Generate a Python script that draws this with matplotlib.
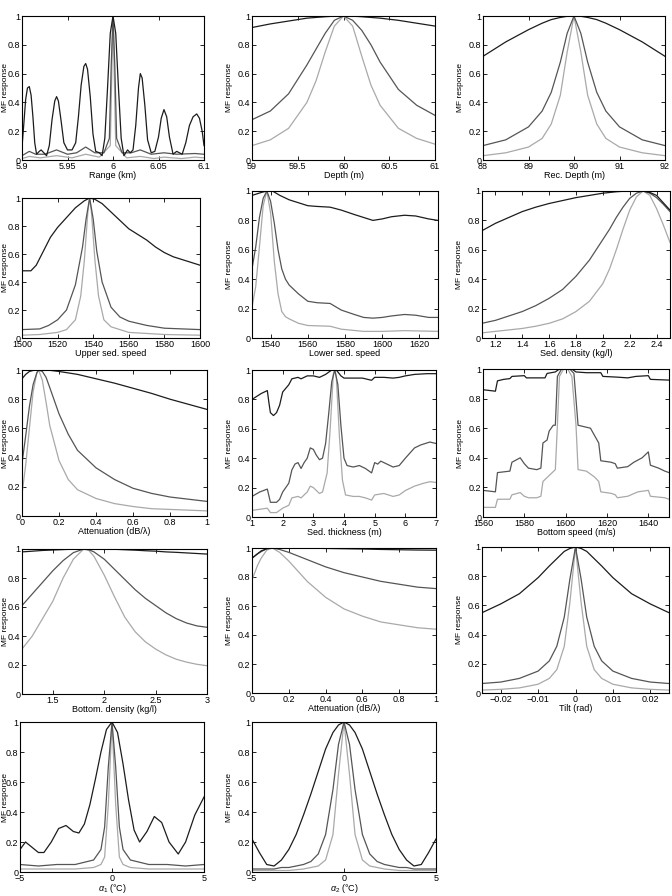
import matplotlib
matplotlib.use("Agg")
import matplotlib.pyplot as plt

# ---- data ----
# 1: range
rangeBlackX = [5.900, 5.902, 5.904, 5.906, 5.908, 5.910, 5.912, 5.914, 5.916, 5.919, 5.921, 5.924, 5.927,
               5.930, 5.933, 5.936, 5.938, 5.940, 5.943, 5.946, 5.950, 5.955, 5.959, 5.962, 5.965, 5.968,
               5.970, 5.972, 5.975, 5.978, 5.981, 5.985, 5.988, 5.991, 5.994, 5.997, 6.000, 6.003, 6.006,
               6.009, 6.012, 6.016, 6.019, 6.022, 6.025, 6.028, 6.030, 6.032, 6.035, 6.038, 6.042, 6.046,
               6.050, 6.053, 6.056, 6.059, 6.062, 6.066, 6.070, 6.073, 6.076, 6.080, 6.084, 6.088, 6.092,
               6.095, 6.098, 6.100]
rangeBlack = [0.09, 0.25, 0.42, 0.50, 0.51, 0.45, 0.30, 0.12, 0.04, 0.06, 0.07, 0.05, 0.03,
              0.10, 0.28, 0.41, 0.44, 0.41, 0.27, 0.12, 0.07, 0.07, 0.12, 0.30, 0.52, 0.65,
              0.67, 0.63, 0.44, 0.18, 0.06, 0.05, 0.03, 0.15, 0.50, 0.88, 1.00, 0.88, 0.50,
              0.15, 0.03, 0.07, 0.05, 0.07, 0.24, 0.50, 0.60, 0.57, 0.38, 0.14, 0.05, 0.06,
              0.16, 0.29, 0.35, 0.30, 0.16, 0.04, 0.06, 0.05, 0.04, 0.12, 0.24, 0.30, 0.32,
              0.29, 0.20, 0.10]
rangeDarkX = [5.900, 5.908, 5.915, 5.925, 5.938, 5.950, 5.960, 5.970, 5.980, 5.990, 5.996, 5.998, 6.000,
              6.002, 6.004, 6.010, 6.020, 6.030, 6.042, 6.056, 6.070, 6.090, 6.100]
rangeDark = [0.03, 0.06, 0.04, 0.04, 0.07, 0.04, 0.05, 0.09, 0.05, 0.05, 0.15, 0.65, 1.00,
             0.65, 0.15, 0.05, 0.05, 0.07, 0.04, 0.05, 0.04, 0.045, 0.04]
rangeLightX = [5.900, 5.908, 5.920, 5.938, 5.955, 5.970, 5.985, 5.997, 5.999, 6.000, 6.001, 6.003,
               6.015, 6.030, 6.045, 6.056, 6.075, 6.090, 6.100]
rangeLight = [0.01, 0.025, 0.015, 0.03, 0.015, 0.04, 0.02, 0.1, 0.7, 1.0, 0.7, 0.1,
              0.015, 0.025, 0.01, 0.02, 0.01, 0.02, 0.015]

# 2: depth
depthX = [59.0, 59.2, 59.4, 59.6, 59.7, 59.8, 59.9, 60.0, 60.1, 60.2, 60.3, 60.4, 60.6, 60.8, 61.0]
depthBlack = [0.92, 0.945, 0.965, 0.985, 0.99, 0.995, 0.999, 1.0, 0.999, 0.995, 0.99, 0.985, 0.97, 0.95, 0.93]
depthDark = [0.28, 0.34, 0.46, 0.66, 0.77, 0.88, 0.97, 1.0, 0.97, 0.90, 0.80, 0.68, 0.49, 0.38, 0.31]
depthLight = [0.10, 0.14, 0.22, 0.40, 0.55, 0.75, 0.93, 1.0, 0.93, 0.72, 0.52, 0.38, 0.22, 0.15, 0.11]

# 3: receiver depth
recX = [88.0, 88.5, 89.0, 89.3, 89.5, 89.7, 89.85, 90.0, 90.15, 90.3, 90.5, 90.7, 91.0, 91.5, 92.0]
recBlack = [0.72, 0.82, 0.905, 0.95, 0.975, 0.99, 0.998, 1.0, 0.998, 0.99, 0.975, 0.95, 0.905, 0.82, 0.72]
recDark = [0.10, 0.14, 0.23, 0.34, 0.47, 0.68, 0.88, 1.0, 0.88, 0.68, 0.47, 0.34, 0.23, 0.14, 0.10]
recLight = [0.03, 0.05, 0.09, 0.15, 0.25, 0.45, 0.75, 1.0, 0.75, 0.45, 0.25, 0.15, 0.09, 0.05, 0.03]

# 4: upper sediment speed
upperBlackX = [1500, 1505, 1508, 1512, 1516, 1520, 1525, 1530, 1535, 1538, 1541, 1545, 1550, 1555,
               1560, 1565, 1570, 1575, 1580, 1585, 1590, 1595, 1600]
upperBlack = [0.48, 0.48, 0.52, 0.62, 0.72, 0.79, 0.86, 0.93, 0.98, 1.0, 0.99, 0.96, 0.90, 0.84,
              0.78, 0.74, 0.70, 0.65, 0.61, 0.58, 0.56, 0.54, 0.52]
upperDarkX = [1500, 1510, 1515, 1520, 1525, 1530, 1534, 1536, 1538, 1540, 1542, 1545, 1550, 1555,
              1560, 1570, 1580, 1590, 1600]
upperDark = [0.06, 0.065, 0.09, 0.13, 0.20, 0.38, 0.65, 0.85, 1.0, 0.85, 0.62, 0.40, 0.22, 0.15,
             0.12, 0.09, 0.07, 0.065, 0.06]
upperLightX = [1500, 1510, 1520, 1525, 1530, 1533, 1535, 1537, 1538, 1539, 1541, 1543, 1546, 1550,
               1560, 1580, 1600]
upperLight = [0.02, 0.025, 0.04, 0.06, 0.13, 0.30, 0.55, 0.90, 1.0, 0.90, 0.55, 0.30, 0.13, 0.08,
              0.04, 0.025, 0.02]

# 5: lower sediment speed
lowerBlackX = [1530, 1535, 1538, 1541, 1545, 1550, 1555, 1560, 1565, 1572, 1578, 1585, 1590, 1595,
               1600, 1605, 1612, 1618, 1625, 1630]
lowerBlack = [0.97, 0.99, 1.0, 1.0, 0.97, 0.94, 0.92, 0.90, 0.895, 0.89, 0.87, 0.84, 0.82, 0.80,
              0.81, 0.825, 0.835, 0.83, 0.81, 0.80]
lowerDarkX = [1530, 1532, 1534, 1536, 1538, 1540, 1542, 1544, 1546, 1548, 1550, 1555, 1560, 1565,
              1572, 1578, 1585, 1590, 1595, 1600, 1605, 1612, 1618, 1625, 1630]
lowerDark = [0.47, 0.62, 0.82, 0.95, 1.0, 0.93, 0.78, 0.60, 0.47, 0.40, 0.36, 0.30, 0.25, 0.24,
             0.235, 0.19, 0.16, 0.14, 0.135, 0.14, 0.15, 0.16, 0.155, 0.14, 0.14]
lowerLightX = [1530, 1532, 1534, 1536, 1538, 1540, 1542, 1544, 1546, 1548, 1550, 1555, 1560, 1572,
               1578, 1590, 1600, 1612, 1630]
lowerLight = [0.21, 0.35, 0.62, 0.90, 1.0, 0.85, 0.52, 0.30, 0.18, 0.145, 0.13, 0.10, 0.085, 0.08,
              0.06, 0.045, 0.045, 0.05, 0.045]

# 6: sediment density
sedDensX = [1.1, 1.2, 1.3, 1.4, 1.5, 1.6, 1.7, 1.8, 1.9, 2.0, 2.05, 2.1, 2.15, 2.2, 2.25, 2.3,
            2.35, 2.4, 2.45, 2.5]
sedDensBlack = [0.73, 0.78, 0.82, 0.86, 0.89, 0.915, 0.935, 0.955, 0.97, 0.985, 0.99, 0.995, 0.998,
                1.0, 1.0, 1.0, 0.99, 0.97, 0.92, 0.87]
sedDensDark = [0.10, 0.12, 0.15, 0.18, 0.22, 0.27, 0.33, 0.42, 0.53, 0.67, 0.74, 0.82, 0.89, 0.95,
               0.985, 1.0, 0.985, 0.955, 0.91, 0.86]
sedDensLight = [0.035, 0.045, 0.055, 0.065, 0.08, 0.10, 0.13, 0.18, 0.25, 0.37, 0.47, 0.60, 0.74,
                0.87, 0.96, 1.0, 0.97, 0.88, 0.77, 0.65]

# 7: sediment attenuation
sedAttX = [0.0, 0.02, 0.04, 0.06, 0.08, 0.09, 0.11, 0.13, 0.15, 0.2, 0.25, 0.3, 0.4, 0.5, 0.6,
           0.7, 0.8, 0.9, 1.0]
sedAttBlack = [0.94, 0.97, 0.99, 0.997, 1.0, 1.0, 1.0, 1.0, 0.998, 0.99, 0.98, 0.97, 0.94, 0.91,
               0.875, 0.84, 0.80, 0.765, 0.73]
sedAttDark = [0.36, 0.55, 0.75, 0.90, 0.98, 1.0, 0.99, 0.95, 0.88, 0.70, 0.56, 0.45, 0.33, 0.25,
              0.19, 0.155, 0.13, 0.115, 0.10]
sedAttLight = [0.15, 0.35, 0.60, 0.85, 0.98, 1.0, 0.93, 0.78, 0.62, 0.38, 0.25, 0.18, 0.12, 0.085,
               0.065, 0.05, 0.045, 0.04, 0.035]

# 8: sediment thickness
thickBlackX = [1.0, 1.3, 1.5, 1.55, 1.6, 1.7, 1.8, 1.9, 2.0, 2.2, 2.3, 2.5, 2.6, 2.8, 3.0, 3.2,
               3.4, 3.6, 3.75, 3.9, 4.0, 4.3, 4.6, 4.9, 5.0, 5.3, 5.6, 5.8, 6.0, 6.3, 6.7, 7.0]
thickBlack = [0.80, 0.84, 0.86, 0.78, 0.71, 0.69, 0.71, 0.76, 0.85, 0.90, 0.94, 0.95, 0.94, 0.96,
              0.96, 0.95, 0.97, 1.0, 1.0, 0.96, 0.945, 0.945, 0.945, 0.93, 0.95, 0.95, 0.945,
              0.95, 0.96, 0.97, 0.975, 0.975]
thickDarkX = [1.0, 1.25, 1.5, 1.6, 1.8, 1.9, 2.0, 2.2, 2.3, 2.4, 2.5, 2.6, 2.7, 2.8, 2.9, 3.0,
              3.1, 3.2, 3.3, 3.4, 3.5, 3.6, 3.7, 3.8, 3.9, 4.0, 4.1, 4.3, 4.5, 4.7, 4.9, 5.0,
              5.1, 5.2, 5.4, 5.6, 5.8, 6.0, 6.3, 6.5, 6.8, 7.0]
thickDark = [0.14, 0.17, 0.19, 0.10, 0.10, 0.12, 0.17, 0.23, 0.32, 0.36, 0.37, 0.33, 0.37, 0.40,
             0.47, 0.46, 0.42, 0.39, 0.40, 0.50, 0.70, 0.92, 1.0, 0.90, 0.62, 0.40, 0.35, 0.34,
             0.35, 0.33, 0.30, 0.37, 0.36, 0.38, 0.36, 0.34, 0.35, 0.40, 0.47, 0.49, 0.51, 0.50]
thickLightX = [1.0, 1.5, 1.6, 1.8, 2.0, 2.2, 2.3, 2.5, 2.6, 2.8, 2.9, 3.0, 3.2, 3.3, 3.45, 3.55,
               3.65, 3.7, 3.75, 3.85, 3.95, 4.05, 4.3, 4.5, 4.7, 4.9, 5.0, 5.3, 5.6, 5.8, 6.0,
               6.3, 6.6, 6.8, 7.0]
thickLight = [0.045, 0.06, 0.03, 0.03, 0.06, 0.08, 0.13, 0.14, 0.13, 0.17, 0.21, 0.20, 0.16, 0.17,
              0.30, 0.60, 0.97, 1.0, 0.95, 0.55, 0.25, 0.15, 0.14, 0.14, 0.13, 0.115, 0.15, 0.16,
              0.14, 0.15, 0.18, 0.21, 0.23, 0.24, 0.235]

# 9: bottom speed
botSpeedBlackX = [1560, 1566, 1567, 1570, 1573, 1574, 1580, 1581, 1585, 1590, 1591, 1595, 1597,
                  1603, 1605, 1610, 1617, 1618, 1625, 1630, 1634, 1640, 1641, 1650]
botSpeedBlack = [0.86, 0.85, 0.92, 0.93, 0.935, 0.95, 0.955, 0.94, 0.94, 0.94, 0.97, 0.98, 1.0,
                 1.0, 0.98, 0.975, 0.975, 0.95, 0.945, 0.94, 0.95, 0.955, 0.93, 0.925]
botSpeedDarkX = [1560, 1566, 1567, 1573, 1574, 1578, 1580, 1582, 1586, 1588, 1589, 1591, 1592,
                 1594, 1595, 1596, 1598, 1602, 1604, 1606, 1612, 1614, 1616, 1617, 1622, 1624,
                 1625, 1630, 1633, 1637, 1640, 1641, 1645, 1648, 1650]
botSpeedDark = [0.18, 0.17, 0.30, 0.31, 0.37, 0.40, 0.36, 0.33, 0.32, 0.33, 0.50, 0.52, 0.58,
                0.62, 0.62, 0.95, 1.0, 1.0, 0.97, 0.62, 0.60, 0.55, 0.50, 0.38, 0.37, 0.36,
                0.33, 0.34, 0.37, 0.40, 0.44, 0.35, 0.33, 0.31, 0.30]
botSpeedLightX = [1560, 1566, 1567, 1573, 1574, 1578, 1580, 1582, 1586, 1588, 1589, 1592, 1595,
                  1596, 1597, 1599, 1601, 1603, 1605, 1606, 1610, 1614, 1616, 1617, 1622, 1624,
                  1625, 1630, 1635, 1640, 1641, 1648, 1650]
botSpeedLight = [0.065, 0.065, 0.12, 0.12, 0.15, 0.165, 0.14, 0.13, 0.13, 0.14, 0.24, 0.28, 0.32,
                 0.62, 0.95, 1.0, 1.0, 0.95, 0.62, 0.32, 0.31, 0.27, 0.24, 0.17, 0.16, 0.15,
                 0.13, 0.14, 0.17, 0.18, 0.14, 0.13, 0.12]

# 10: bottom density
botDensX = [1.2, 1.3, 1.4, 1.5, 1.6, 1.7, 1.8, 1.85, 1.9, 2.0, 2.1, 2.2, 2.3, 2.4, 2.5, 2.6, 2.7,
            2.8, 2.9, 3.0]
botDensBlack = [0.98, 0.985, 0.99, 0.993, 0.996, 0.999, 1.0, 1.0, 1.0, 1.0, 0.998, 0.995, 0.992,
                0.988, 0.985, 0.98, 0.977, 0.973, 0.969, 0.965]
botDensDark = [0.61, 0.69, 0.77, 0.85, 0.92, 0.975, 1.0, 0.995, 0.98, 0.93, 0.86, 0.79, 0.72,
               0.66, 0.61, 0.56, 0.52, 0.49, 0.47, 0.46]
botDensLight = [0.31, 0.40, 0.52, 0.64, 0.80, 0.93, 1.0, 0.99, 0.95, 0.82, 0.67, 0.53, 0.43,
                0.36, 0.31, 0.27, 0.24, 0.22, 0.205, 0.195]

# 11: bottom attenuation
botAttX = [0.0, 0.03, 0.05, 0.08, 0.11, 0.15, 0.2, 0.25, 0.3, 0.4, 0.5, 0.6, 0.7, 0.8, 0.9, 1.0]
botAttBlack = [0.93, 0.96, 0.98, 0.995, 1.0, 1.0, 1.0, 1.0, 0.999, 0.997, 0.995, 0.993, 0.99,
               0.988, 0.986, 0.985]
botAttDark = [0.93, 0.96, 0.975, 0.995, 1.0, 0.99, 0.97, 0.945, 0.92, 0.87, 0.83, 0.80, 0.77,
              0.75, 0.73, 0.72]
botAttLight = [0.78, 0.88, 0.93, 0.985, 1.0, 0.97, 0.91, 0.84, 0.77, 0.66, 0.58, 0.53, 0.49,
               0.47, 0.45, 0.44]

# 12: tilt
tiltX = [-0.025, -0.02, -0.015, -0.01, -0.007, -0.005, -0.003, -0.0015, 0.0,
         0.0015, 0.003, 0.005, 0.007, 0.01, 0.015, 0.02, 0.025]
tiltBlack = [0.55, 0.61, 0.68, 0.79, 0.87, 0.92, 0.97, 0.99, 1.0,
             0.99, 0.97, 0.92, 0.87, 0.79, 0.68, 0.61, 0.55]
tiltDark = [0.065, 0.075, 0.10, 0.15, 0.22, 0.32, 0.52, 0.78, 1.0,
            0.78, 0.52, 0.32, 0.22, 0.15, 0.10, 0.075, 0.065]
tiltLight = [0.02, 0.025, 0.035, 0.06, 0.10, 0.16, 0.32, 0.62, 1.0,
             0.62, 0.32, 0.16, 0.10, 0.06, 0.035, 0.025, 0.02]

# 13: alpha 1
alpha1BlackX = [-5.0, -4.7, -4.4, -4.0, -3.7, -3.3, -2.9, -2.5, -2.1, -1.8, -1.5, -1.2, -0.9,
                -0.6, -0.3, 0.0, 0.3, 0.6, 0.9, 1.2, 1.5, 1.9, 2.3, 2.7, 3.1, 3.6, 4.0, 4.5, 5.0]
alpha1Black = [0.15, 0.20, 0.17, 0.13, 0.13, 0.20, 0.29, 0.31, 0.27, 0.26, 0.32, 0.45, 0.62,
               0.80, 0.95, 1.0, 0.93, 0.72, 0.48, 0.28, 0.20, 0.27, 0.37, 0.33, 0.20, 0.12, 0.20,
               0.38, 0.50]
alpha1GrayX = [-5.0, -4.0, -3.0, -2.0, -1.0, -0.6, -0.4, -0.2, 0.0, 0.2, 0.4, 0.6, 1.0, 2.0,
               3.0, 4.0, 5.0]
alpha1Dark = [0.05, 0.04, 0.05, 0.05, 0.08, 0.15, 0.30, 0.70, 1.0, 0.70, 0.30, 0.15, 0.08, 0.05,
              0.05, 0.04, 0.05]
alpha1Light = [0.02, 0.02, 0.02, 0.02, 0.03, 0.05, 0.10, 0.45, 1.0, 0.45, 0.10, 0.05, 0.03, 0.02,
               0.02, 0.02, 0.02]

# 14: alpha 2
alpha2X = [-5.0, -4.6, -4.2, -3.8, -3.4, -3.0, -2.6, -2.2, -1.8, -1.4, -1.0, -0.6, -0.3, 0.0,
           0.3, 0.6, 1.0, 1.4, 1.8, 2.2, 2.6, 3.0, 3.4, 3.8, 4.2, 4.6, 5.0]
alpha2Black = [0.22, 0.13, 0.05, 0.04, 0.08, 0.15, 0.25, 0.38, 0.52, 0.67, 0.82, 0.93, 0.98, 1.0,
               0.98, 0.93, 0.82, 0.67, 0.52, 0.38, 0.25, 0.15, 0.08, 0.04, 0.05, 0.13, 0.22]
alpha2Dark = [0.02, 0.02, 0.02, 0.02, 0.03, 0.03, 0.04, 0.05, 0.07, 0.12, 0.25, 0.55, 0.85, 1.0,
              0.85, 0.55, 0.25, 0.12, 0.07, 0.05, 0.04, 0.03, 0.03, 0.02, 0.02, 0.02, 0.02]
alpha2Light = [0.01, 0.01, 0.01, 0.01, 0.01, 0.01, 0.015, 0.02, 0.03, 0.04, 0.08, 0.25, 0.65, 1.0,
               0.65, 0.25, 0.08, 0.04, 0.03, 0.02, 0.015, 0.01, 0.01, 0.01, 0.01, 0.01, 0.01]

# ---- panels ----
panels = [
    # (box px: left, right, top, bottom), lines, xlim, xticks, xticklabels, xlabel
    ((22, 204, 16, 160), [(rangeBlackX, rangeBlack), (rangeDarkX, rangeDark), (rangeLightX, rangeLight)],
     (5.9, 6.1), [5.9, 5.95, 6.0, 6.05, 6.1], ["5.9", "5.95", "6", "6.05", "6.1"], "Range (km)"),
    ((252, 435, 16, 160), [(depthX, depthBlack), (depthX, depthDark), (depthX, depthLight)],
     (59, 61), [59, 59.5, 60, 60.5, 61], ["59", "59.5", "60", "60.5", "61"], "Depth (m)"),
    ((483, 665, 16, 160), [(recX, recBlack), (recX, recDark), (recX, recLight)],
     (88, 92), [88, 89, 90, 91, 92], ["88", "89", "90", "91", "92"], "Rec. Depth (m)"),
    ((22, 200, 198, 338), [(upperBlackX, upperBlack), (upperDarkX, upperDark), (upperLightX, upperLight)],
     (1500, 1600), [1500, 1520, 1540, 1560, 1580, 1600], None, "Upper sed. speed"),
    ((252, 438, 191, 338), [(lowerBlackX, lowerBlack), (lowerDarkX, lowerDark), (lowerLightX, lowerLight)],
     (1530, 1630), [1540, 1560, 1580, 1600, 1620], None, "Lower sed. speed"),
    ((482, 670, 191, 338), [(sedDensX, sedDensBlack), (sedDensX, sedDensDark), (sedDensX, sedDensLight)],
     (1.1, 2.5), [1.2, 1.4, 1.6, 1.8, 2.0, 2.2, 2.4], ["1.2", "1.4", "1.6", "1.8", "2", "2.2", "2.4"],
     "Sed. density (kg/l)"),
    ((22, 207, 370, 516), [(sedAttX, sedAttBlack), (sedAttX, sedAttDark), (sedAttX, sedAttLight)],
     (0, 1), [0, 0.2, 0.4, 0.6, 0.8, 1], ["0", "0.2", "0.4", "0.6", "0.8", "1"], "Attenuation (dB/λ)"),
    ((252, 436, 370, 517), [(thickBlackX, thickBlack), (thickDarkX, thickDark), (thickLightX, thickLight)],
     (1, 7), [1, 2, 3, 4, 5, 6, 7], None, "Sed. thickness (m)"),
    ((483, 669, 369, 517), [(botSpeedBlackX, botSpeedBlack), (botSpeedDarkX, botSpeedDark),
                            (botSpeedLightX, botSpeedLight)],
     (1560, 1650), [1560, 1580, 1600, 1620, 1640], None, "Bottom speed (m/s)"),
    ((22, 207, 549, 694), [(botDensX, botDensBlack), (botDensX, botDensDark), (botDensX, botDensLight)],
     (1.2, 3), [1.5, 2, 2.5, 3], ["1.5", "2", "2.5", "3"], "Bottom. density (kg/l)"),
    ((252, 436, 548, 693), [(botAttX, botAttBlack), (botAttX, botAttDark), (botAttX, botAttLight)],
     (0, 1), [0, 0.2, 0.4, 0.6, 0.8, 1], ["0", "0.2", "0.4", "0.6", "0.8", "1"], "Attenuation (dB/λ)"),
    ((482, 669, 547, 693), [(tiltX, tiltBlack), (tiltX, tiltDark), (tiltX, tiltLight)],
     (-0.025, 0.025), [-0.02, -0.01, 0, 0.01, 0.02], ["\u22120.02", "\u22120.01", "0", "0.01", "0.02"],
     "Tilt (rad)"),
    ((20, 204, 722, 872), [(alpha1BlackX, alpha1Black), (alpha1GrayX, alpha1Dark), (alpha1GrayX, alpha1Light)],
     (-5, 5), [-5, 0, 5], ["\u22125", "0", "5"], r"$\alpha_1$ ($\degree$C)"),
    ((252, 436, 722, 872), [(alpha2X, alpha2Black), (alpha2X, alpha2Dark), (alpha2X, alpha2Light)],
     (-5, 5), [-5, 0, 5], ["\u22125", "0", "5"], r"$\alpha_2$ ($\degree$C)"),
]

lineColors = ["#1c1c1c", "#555555", "#a9a9a9"]
yTicks = [0, 0.2, 0.4, 0.6, 0.8, 1]
yTickLabels = ["0", "0.2", "0.4", "0.6", "0.8", "1"]

plt.rcParams["font.family"] = ["Liberation Sans", "DejaVu Sans"]
plt.rcParams["mathtext.fontset"] = "custom"
plt.rcParams["mathtext.rm"] = "Liberation Sans"
plt.rcParams["mathtext.it"] = "Liberation Sans:italic"
# tick numbers in the reference are set in a condensed face
tickFamily = ["Liberation Sans Narrow", "Liberation Sans", "DejaVu Sans"]

figW, figH = 672, 896
fig = plt.figure(figsize=(figW / 100, figH / 100), dpi=100)

for box, lines, xlim, xticks, xticklabels, xlabel in panels:
    left, right, top, bottom = box
    width, height = right - left, bottom - top
    ax = fig.add_axes([left / figW, 1 - bottom / figH, width / figW, height / figH])
    # darkest last so it sits on top
    for (x, y), color in reversed(list(zip(lines, lineColors))):
        ax.plot(x, y, color=color, lw=0.9)
    ax.set_xlim(*xlim)
    ax.set_ylim(0, 1)
    if xticklabels is None:
        xticklabels = [str(t) for t in xticks]
    ax.set_xticks(xticks, xticklabels)
    ax.set_yticks(yTicks, yTickLabels)
    ax.tick_params(direction="in", top=True, right=True, length=3, width=0.6, labelsize=6.5)
    ax.tick_params(axis="x", pad=1.5)
    ax.tick_params(axis="y", pad=1.0)
    for lab in ax.get_xticklabels() + ax.get_yticklabels():
        lab.set_fontfamily(tickFamily)
    ax.set_xlabel(xlabel, fontsize=6.5, labelpad=0)
    ax.set_ylabel("MF response", fontsize=6)
    # y label right edge (pixels); squeezed against the figure edge on the left column
    labelX = 9.3 if left < 100 else left - 19
    ax.yaxis.set_label_coords((labelX - left) / width, 0.5)
    if xlabel.startswith("$"):
        ax.xaxis.set_label_coords(0.5, -10 / height)
    for spine in ax.spines.values():
        spine.set_linewidth(0.8)

fig.savefig("out.png", dpi=100)
